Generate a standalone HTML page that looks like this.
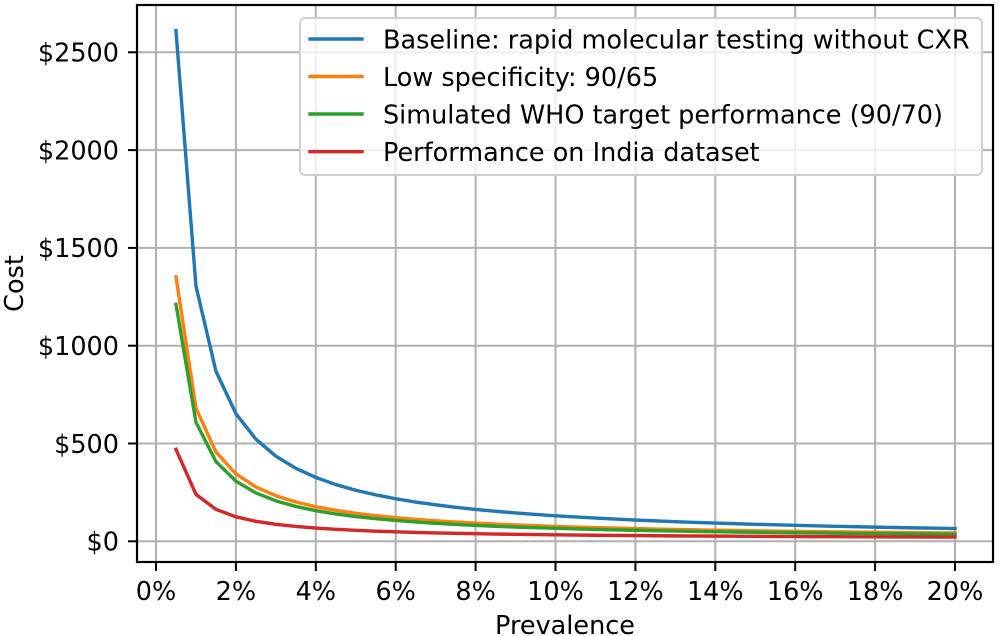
<!DOCTYPE html>
<html><head><meta charset="utf-8"><style>
html,body{margin:0;padding:0;background:#fff;}
svg{display:block;}
text{font-family:"DejaVu Sans","Liberation Sans",sans-serif;fill:#000;}
</style></head><body>
<svg width="1000" height="636" viewBox="0 0 1000 636" xmlns="http://www.w3.org/2000/svg">
<rect width="1000" height="636" fill="#fff"/>
<!-- grid -->
<g stroke="#b0b0b0" stroke-width="2" fill="none">
<line x1="156" y1="5" x2="156" y2="562"/>
<line x1="235.9" y1="5" x2="235.9" y2="562"/>
<line x1="315.8" y1="5" x2="315.8" y2="562"/>
<line x1="395.7" y1="5" x2="395.7" y2="562"/>
<line x1="475.6" y1="5" x2="475.6" y2="562"/>
<line x1="555.5" y1="5" x2="555.5" y2="562"/>
<line x1="635.4" y1="5" x2="635.4" y2="562"/>
<line x1="715.3" y1="5" x2="715.3" y2="562"/>
<line x1="795.2" y1="5" x2="795.2" y2="562"/>
<line x1="875.1" y1="5" x2="875.1" y2="562"/>
<line x1="955" y1="5" x2="955" y2="562"/>
<line x1="137" y1="541.3" x2="993" y2="541.3"/>
<line x1="137" y1="443.5" x2="993" y2="443.5"/>
<line x1="137" y1="345.7" x2="993" y2="345.7"/>
<line x1="137" y1="247.9" x2="993" y2="247.9"/>
<line x1="137" y1="150.1" x2="993" y2="150.1"/>
<line x1="137" y1="52.3" x2="993" y2="52.3"/>
</g>
<!-- series -->
<g fill="none" stroke-width="3.4" stroke-linejoin="round" stroke-linecap="square">
<polyline vector-effect="non-scaling-stroke" stroke="#1f77b4" transform="matrix(39.95,0,0,-255.3,156,541.3)" points="0.5,2 1,1 1.5,0.66667 2,0.5 2.5,0.4 3,0.33333 3.5,0.28571 4,0.25 4.5,0.22222 5,0.2 5.5,0.18182 6,0.16667 6.5,0.15385 7,0.14286 7.5,0.13333 8,0.125 8.5,0.11765 9,0.11111 9.5,0.10526 10,0.1 10.5,0.09524 11,0.09091 11.5,0.08696 12,0.08333 12.5,0.08 13,0.07692 13.5,0.07407 14,0.07143 14.5,0.06897 15,0.06667 15.5,0.06452 16,0.0625 16.5,0.06061 17,0.05882 17.5,0.05714 18,0.05556 18.5,0.05405 19,0.05263 19.5,0.05128 20,0.05"/>
<polyline vector-effect="non-scaling-stroke" stroke="#ff7f0e" transform="matrix(39.95,0,0,-131.4,156,539.54)" points="0.5,2 1,1 1.5,0.66667 2,0.5 2.5,0.4 3,0.33333 3.5,0.28571 4,0.25 4.5,0.22222 5,0.2 5.5,0.18182 6,0.16667 6.5,0.15385 7,0.14286 7.5,0.13333 8,0.125 8.5,0.11765 9,0.11111 9.5,0.10526 10,0.1 10.5,0.09524 11,0.09091 11.5,0.08696 12,0.08333 12.5,0.08 13,0.07692 13.5,0.07407 14,0.07143 14.5,0.06897 15,0.06667 15.5,0.06452 16,0.0625 16.5,0.06061 17,0.05882 17.5,0.05714 18,0.05556 18.5,0.05405 19,0.05263 19.5,0.05128 20,0.05"/>
<polyline vector-effect="non-scaling-stroke" stroke="#2ca02c" transform="matrix(39.95,0,0,-117.9,156,540.13)" points="0.5,2 1,1 1.5,0.66667 2,0.5 2.5,0.4 3,0.33333 3.5,0.28571 4,0.25 4.5,0.22222 5,0.2 5.5,0.18182 6,0.16667 6.5,0.15385 7,0.14286 7.5,0.13333 8,0.125 8.5,0.11765 9,0.11111 9.5,0.10526 10,0.1 10.5,0.09524 11,0.09091 11.5,0.08696 12,0.08333 12.5,0.08 13,0.07692 13.5,0.07407 14,0.07143 14.5,0.06897 15,0.06667 15.5,0.06452 16,0.0625 16.5,0.06061 17,0.05882 17.5,0.05714 18,0.05556 18.5,0.05405 19,0.05263 19.5,0.05128 20,0.05"/>
<polyline vector-effect="non-scaling-stroke" stroke="#d62728" transform="matrix(39.95,0,0,-45.0,156,539.34)" points="0.5,2 1,1 1.5,0.66667 2,0.5 2.5,0.4 3,0.33333 3.5,0.28571 4,0.25 4.5,0.22222 5,0.2 5.5,0.18182 6,0.16667 6.5,0.15385 7,0.14286 7.5,0.13333 8,0.125 8.5,0.11765 9,0.11111 9.5,0.10526 10,0.1 10.5,0.09524 11,0.09091 11.5,0.08696 12,0.08333 12.5,0.08 13,0.07692 13.5,0.07407 14,0.07143 14.5,0.06897 15,0.06667 15.5,0.06452 16,0.0625 16.5,0.06061 17,0.05882 17.5,0.05714 18,0.05556 18.5,0.05405 19,0.05263 19.5,0.05128 20,0.05"/>
</g>
<!-- spines -->
<rect x="137" y="5" width="856" height="557" fill="none" stroke="#000" stroke-width="2.2"/>
<!-- ticks -->
<g stroke="#000" stroke-width="2">
<line x1="128" y1="541.3" x2="137" y2="541.3"/>
<line x1="128" y1="443.5" x2="137" y2="443.5"/>
<line x1="128" y1="345.7" x2="137" y2="345.7"/>
<line x1="128" y1="247.9" x2="137" y2="247.9"/>
<line x1="128" y1="150.1" x2="137" y2="150.1"/>
<line x1="128" y1="52.3" x2="137" y2="52.3"/>
<line x1="156" y1="562" x2="156" y2="571"/>
<line x1="235.9" y1="562" x2="235.9" y2="571"/>
<line x1="315.8" y1="562" x2="315.8" y2="571"/>
<line x1="395.7" y1="562" x2="395.7" y2="571"/>
<line x1="475.6" y1="562" x2="475.6" y2="571"/>
<line x1="555.5" y1="562" x2="555.5" y2="571"/>
<line x1="635.4" y1="562" x2="635.4" y2="571"/>
<line x1="715.3" y1="562" x2="715.3" y2="571"/>
<line x1="795.2" y1="562" x2="795.2" y2="571"/>
<line x1="875.1" y1="562" x2="875.1" y2="571"/>
<line x1="955" y1="562" x2="955" y2="571"/>
</g>
<!-- y tick labels -->
<g font-size="25.5" text-anchor="end">
<text x="119" y="550.6">$0</text>
<text x="119" y="452.8">$500</text>
<text x="119" y="355">$1000</text>
<text x="119" y="257.2">$1500</text>
<text x="119" y="159.4">$2000</text>
<text x="119" y="61.6">$2500</text>
</g>
<!-- x tick labels -->
<g font-size="25.5" text-anchor="middle">
<text x="156" y="600">0%</text>
<text x="235.9" y="600">2%</text>
<text x="315.8" y="600">4%</text>
<text x="395.7" y="600">6%</text>
<text x="475.6" y="600">8%</text>
<text x="555.5" y="600">10%</text>
<text x="635.4" y="600">12%</text>
<text x="715.3" y="600">14%</text>
<text x="795.2" y="600">16%</text>
<text x="875.1" y="600">18%</text>
<text x="955" y="600">20%</text>
</g>
<text x="565" y="634" font-size="25.5" text-anchor="middle">Prevalence</text>
<text transform="translate(23,283.5) rotate(-90)" font-size="25.5" text-anchor="middle">Cost</text>
<!-- legend -->
<rect x="300" y="18" width="682" height="157" rx="5" ry="5" fill="#fff" fill-opacity="0.8" stroke="#d0d0d0" stroke-width="2"/>
<g stroke-width="3.4" stroke-linecap="square">
<line x1="310" y1="39" x2="362" y2="39" stroke="#1f77b4"/>
<line x1="310" y1="76.5" x2="362" y2="76.5" stroke="#ff7f0e"/>
<line x1="310" y1="114" x2="362" y2="114" stroke="#2ca02c"/>
<line x1="310" y1="151.7" x2="362" y2="151.7" stroke="#d62728"/>
</g>
<g font-size="25.5">
<text x="383" y="48.3">Baseline: rapid molecular testing without CXR</text>
<text x="383" y="86">Low specificity: 90/65</text>
<text x="383" y="123.6">Simulated WHO target performance (90/70)</text>
<text x="383" y="161.2">Performance on India dataset</text>
</g>
</svg>
</body></html>
